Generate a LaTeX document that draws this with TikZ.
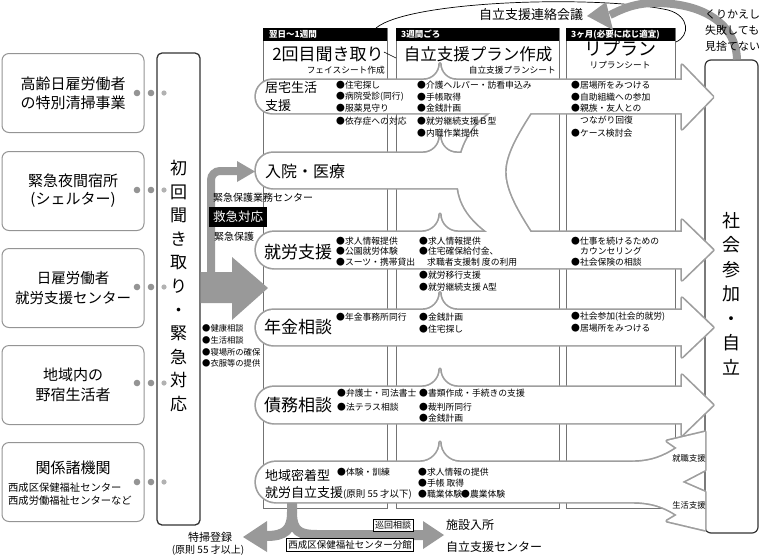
\documentclass[tikz,border=0pt]{standalone}
\usepackage{fontspec}
\setmainfont{Noto Sans CJK JP}
\newcommand\fsz[1]{\fontsize{#1}{#1}\selectfont}
\newcommand\its[4][]{\foreach \yy/\ttx [count=\k] in {#4} {\node[item,#1] (#2-\k) at (#3,\yy) {\ttx};}}
\begin{document}
\begin{tikzpicture}[x=1pt,y=-1pt,
  lbox/.style={draw=black!42, line width=1pt, rounded corners=7pt, fill=white, inner sep=0pt, align=center, minimum width=142pt, minimum height=79pt},
  colbox/.style={draw=black!55, line width=0.9pt, fill=white, inner sep=0pt, anchor=north west, minimum height=480pt},
  hbar/.style={fill=black, inner sep=0pt, anchor=north west, minimum height=13pt},
  bartxt/.style={text=white, font=\fsz{8.5}\bfseries, anchor=west, inner sep=0pt},
  bandline/.style={draw=black!38, line width=3.4pt, line join=round},
  item/.style={font=\fsz{8.8}, anchor=west, inner sep=0pt},
  rowlab/.style={font=\fsz{17}, anchor=west, inner sep=0pt},
  grayfill/.style={fill=black!40},
  ]
\useasboundingbox (0,0) rectangle (762,558);

% ---------- left boxes ----------
\node[lbox, font=\fontsize{15}{19}\selectfont] (L1) at (73,93) {高齢日雇労働者\\の特別清掃事業};
\node[lbox, font=\fontsize{15}{18}\selectfont] (L2) at (73,191) {緊急夜間宿所\\(シェルター)};
\node[lbox, font=\fontsize{14.5}{19.5}\selectfont] (L3) at (73,288) {日雇労働者\\就労支援センター};
\node[lbox, font=\fontsize{15}{20}\selectfont] (L4) at (73,385) {地域内の\\野宿生活者};
\node[lbox] (L5) at (73,482) {};
\node[font=\fsz{15}, inner sep=0pt] (L5a) at (73,468) {関係諸機関};
\node[font=\fontsize{10.3}{13}\selectfont, align=left, anchor=west, inner sep=0pt] (L5b) at (8,494) {西成区保健福祉センター\\西成労働福祉センターなど};

% ---------- vertical box ----------
\node[draw=black!80, line width=1.3pt, rounded corners=5pt, fill=white, minimum width=43pt, minimum height=472pt, inner sep=0pt] (V) at (178.5,289) {};
\node[font=\fontsize{17}{23.6}\selectfont, align=center, inner sep=0pt] (VT) at (178.5,286) {初\\回\\聞\\き\\取\\り\\・\\緊\\急\\対\\応};
\foreach \y in {93,190,287,383,482} {
  \fill[black!42] (137,\y) circle (3.3pt);
  \fill[black!42] (151,\y) circle (3.3pt);
  \fill[black!30] (164,\y) circle (2.6pt);
}

% ---------- columns ----------
\node[colbox, minimum width=124pt] (C1) at (263,28) {};
\node[colbox, minimum width=163pt] (C2) at (396,28) {};
\node[colbox, minimum width=109pt] (C3) at (566,28) {};
\node[hbar, minimum width=124pt] (H1) at (263,28) {};
\node[hbar, minimum width=163pt] (H2) at (396,28) {};
\node[hbar, minimum width=109pt] (H3) at (566,28) {};
\node[bartxt] (H1t) at (269,34.5) {翌日～1週間};
\node[bartxt] (H2t) at (401,34.5) {3週間ごろ};
\node[bartxt] (H3t) at (571,34.5) {3ヶ月(必要に応じ適宜)};
\node[font=\fsz{17}, inner sep=0pt] (P1) at (328,54) {2回目聞き取り};
\node[font=\fsz{8.7}, anchor=east, inner sep=0pt] (P1s) at (385,70) {フェイスシート作成};
\node[font=\fsz{16.5}, inner sep=0pt] (P2) at (478,54) {自立支援プラン作成};
\node[font=\fsz{8.7}, anchor=east, inner sep=0pt] (P2s) at (556,70) {自立支援プランシート};
\node[font=\fsz{18}, inner sep=0pt] (P3) at (620,48) {リプラン};
\node[font=\fsz{8.7}, inner sep=0pt] (P3s) at (620,65) {リプランシート};
\draw[black, line width=0.6pt] (P1.east |- 0,52) -- (C2.west |- 0,58);

% ---------- right box ----------
\node[draw=black!80, line width=1.2pt, rounded corners=6pt, fill=white, minimum width=53pt, minimum height=473pt, inner sep=0pt] (RB) at (731.5,296.5) {};

% ---------- bands ----------
\def\shA{(440,80) -- (682,80) -- (682,65) -- (713,97) -- (682,129) -- (682,113) -- (440,113) [rounded corners=16.5pt] -- (256,113) -- (256,80) -- (440,80) -- cycle}
\def\shB{(440,153) -- (490,153) -- (490,188) -- (440,188) [rounded corners=17pt] -- (256,188) -- (256,153) -- (440,153) -- cycle}
\def\shC{(497,109) -- (533,109) .. controls (516,135) and (505,155) .. (505,172) .. controls (505,190) and (516,210) .. (533,236) -- (493,236) .. controls (462,215) and (456,195) .. (458,172) .. controls (460,148) and (470,125) .. (497,109) -- cycle}
\def\shD{(440,232) -- (682,232) -- (682,220) -- (713,250) -- (682,280) -- (682,268) -- (440,268) [rounded corners=18pt] -- (256,268) -- (256,232) -- (440,232) -- cycle}
\def\shE{(440,310) -- (682,310) -- (682,298) -- (713,327.5) -- (682,357) -- (682,345) -- (440,345) [rounded corners=17.5pt] -- (256,345) -- (256,310) -- (440,310) -- cycle}
\def\shF{(440,387) -- (682,387) -- (682,375) -- (713,405) -- (682,435) -- (682,423) -- (440,423) [rounded corners=18pt] -- (256,423) -- (256,387) -- (440,387) -- cycle}
\def\shG{(440,462) -- (632,462) .. controls (652,462) and (665,456) .. (677,448) -- (667,441) -- (705,432) -- (705,470) -- (682,482) -- (705,492) -- (705,530) -- (667,521) -- (677,515) .. controls (665,507) and (652,502) .. (632,502) -- (440,502) [rounded corners=20pt] -- (256,502) -- (256,462) -- (440,462) -- cycle}
\path[bandline] \shA; \path[bandline] \shB; \path[bandline] \shC; \path[bandline] \shD;
\path[bandline] \shE; \path[bandline] \shF; \path[bandline] \shG;
\fill[white] \shA; \fill[white] \shB; \fill[white] \shC; \fill[white] \shD;
\fill[white] \shE; \fill[white] \shF; \fill[white] \shG;

% ---------- gray arrows from the vertical box ----------
\fill[grayfill] (V.east |- 0,272) -- (232,272) -- (232,257) -- (268,288) -- (232,320) -- (232,303) -- (V.east |- 0,303) -- cycle;
\draw[black!40, line width=8pt, rounded corners=9pt] (211,276) -- (211,171) -- (238,171);
\fill[grayfill] (237,161) -- (255,171.5) -- (237,182) -- cycle;
\node[font=\fsz{10}, anchor=west, inner sep=0pt] (K1) at (213,198) {緊急保護業務センター};
\node[fill=black, text=white, font=\fsz{12.5}, inner sep=0pt, minimum width=58pt, minimum height=20pt] (K2) at (238,217) {救急対応};
\node[font=\fsz{10}, anchor=west, inner sep=0pt] (K3) at (214,237) {緊急保護};
\its[font=\fsz{8.3}]{g}{202}{328/●健康相談, 340/●生活相談, 352/●寝場所の確保, 363.5/●衣服等の提供}

% ---------- row labels ----------
\node[font=\fontsize{13}{18}\selectfont, align=left, anchor=west, inner sep=0pt] (T1) at (265,97) {居宅生活\\支援};
\node[font=\fsz{16}, anchor=west, inner sep=0pt] (T2) at (265,171) {入院・医療};
\node[rowlab] (T3) at (264,252) {就労支援};
\node[rowlab] (T4) at (264,327) {年金相談};
\node[rowlab] (T5) at (264,405) {債務相談};
\node[font=\fontsize{13}{17}\selectfont, align=left, anchor=west, inner sep=0pt] (T6) at (265,484) {地域密着型\\就労自立支援{\fsz{9.5}(原則 55 才以下)}};

% ---------- items ----------
\its{a1}{336}{85/●住宅探し, 97/●病院受診(同行), 108.5/●服薬見守り, 121/●依存症への対応}
\its{a2}{417}{85/●介護ヘルパー・訪看申込み, 97/●手帳取得, 108.5/●金銭計画, 121/●就労継続支援Ｂ型, 133/●内職作業提供}
\its{a3}{571}{85/●居場所をみつける, 97/●自助組織への参加, 108.5/●親族・友人との, 120.5/\hspace*{9pt}つながり回復, 133/●ケース検討会}
\its{c1}{336}{241/●求人情報提供, 251.5/●公園就労体験, 262/●スーツ・携帯貸出}
\its{c2}{419}{241/●求人情報提供, 251.5/●住宅確保給付金、, 262/\hspace*{8pt}求職者支援制 度の利用, 275/●就労移行支援, 287/●就労継続支援 A型}
\its{c3}{571}{241/●仕事を続けるための, 251.5/\hspace*{9pt}カウンセリング, 262/●社会保険の相談}
\its{d1}{336}{317/●年金事務所同行}
\its{d2}{419}{317/●金銭計画, 329/●住宅探し}
\its{d3}{571}{317/●社会参加(社会的就労), 328.5/●居場所をみつける}
\its{e1}{337}{393/●弁護士・司法書士, 407/●法テラス相談}
\its{e2}{419}{393/●書類作成・手続きの支援, 407/●裁判所同行, 418.5/●金銭計画}
\its{f1}{337}{472/●体験・訓練}
\its{f2}{418}{472/●求人情報の提供, 483/●手帳 取得, 494/●職業体験}
\node[item] (f3) at (461,494) {●農業体験};
\node[font=\fsz{8.3}, inner sep=0pt] (J1) at (689,458) {就職支援};
\node[font=\fsz{8.3}, inner sep=0pt] (J2) at (689,505) {生活支援};

% ---------- right box text ----------
\node[font=\fontsize{18}{24.5}\selectfont, align=center, inner sep=0pt] (RT) at (731,293.5) {社\\会\\参\\加\\・\\自\\立};

% ---------- bottom ----------
\draw[black!40, line width=10pt] (292,503) -- (292,512) .. controls (292,530) and (285,536) .. (266,536);
\draw[black!40, line width=10pt] (292,512) .. controls (292,532) and (300,535) .. (318,535) -- (424,535);
\fill[grayfill] (267,521) -- (243,537) -- (267,552) -- cycle;
\fill[grayfill] (423,521) -- (444,535) -- (423,549) -- cycle;
\node[font=\fsz{11}, inner sep=0pt] (B1) at (210,537) {特掃登録};
\node[font=\fsz{10}, inner sep=0pt] (B2) at (208,550) {(原則 55 才以上)};
\node[draw=black, line width=0.6pt, fill=white, font=\fsz{9}, inner sep=2pt] (B3) at (393,525) {巡回相談};
\node[draw=black, line width=0.6pt, fill=white, font=\fsz{9.5}, inner sep=2pt] (B4) at (350,545) {西成区保健福祉センター分館};
\node[font=\fsz{12}, anchor=west, inner sep=0pt] (B5) at (446,525) {施設入所};
\node[font=\fsz{12}, anchor=west, inner sep=0pt] (B6) at (446,547) {自立支援センター};

% ---------- top ----------
\draw[black, line width=0.7pt] (376,28) .. controls (410,0) and (600,-5) .. (668,10) .. controls (690,16) and (690,36) .. (C3.east |- 0,42);
\node[font=\fsz{13}, inner sep=0pt] (MT) at (531,15) {自立支援連絡会議};
\draw[black!40, line width=8pt] (RB.north -| 737,0) .. controls (736,25) and (705,3) .. (655,3) .. controls (635,3) and (622,9) .. (610,15);
\fill[grayfill] (606,2) -- (587,16) -- (613,30) -- cycle;
\node[font=\fontsize{11}{16}\selectfont, align=left, anchor=west, inner sep=0pt] (KT) at (705,31) {くりかえし\\失敗しても\\見捨てない};
\end{tikzpicture}
\end{document}
